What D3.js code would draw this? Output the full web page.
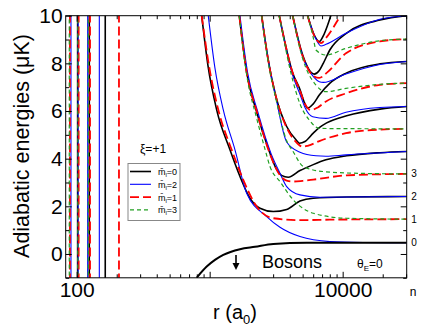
<!DOCTYPE html>
<html>
<head>
<meta charset="utf-8">
<script src="https://cdn.jsdelivr.net/npm/d3@7"></script>
<style>
  body { margin: 0; background: #fff; }
  text { font-family: "Liberation Sans", Arial, sans-serif; }
</style>
</head>
<body>
<script>
// curves as [r (a0), energy (uK)]
// black: m=0, red: m=1, blue: m=2, green: m=3 ; F1..F6 = families from left to right
var bosons = [[798,-1],[950,-0.53],[1096,-0.25],[1266,-0.04],[1690,0.2],[2191,0.3],[3008,0.42],[5357,0.47],[30300,0.47]];

var m0F1 = [[871,10],[971,7.9],[1129,6.05],[1421,4.37],[1690,3.25],[2009,2.34],[2389,1.92],[3008,1.78],[3793,1.87],[4775,2.22],[6011,2.34],[10718,2.39],[30300,2.41]];
var m0F2 = [[1670,10],[1900,7.6],[2230,6.05],[2841,4.23],[3151,3.6],[3470,3.3],[3899,3.22],[4775,3.5],[6011,3.75],[7489,3.95],[10718,4.12],[19074,4.25],[30300,4.3]];
var m0F3 = [[2460,10],[2744,8.2],[3151,6.6],[3793,5.35],[4456,4.79],[4719,4.65],[5206,4.72],[6011,5.07],[6671,5.3],[7578,5.5],[10718,5.8],[19074,6.08],[30300,6.19]];
var m0F4 = [[3337,10],[4209,7.6],[4775,6.9],[5117,6.4],[5455,6.12],[6011,6.3],[6671,6.67],[8025,7.17],[10718,7.6],[19074,7.98],[30300,8.08]];
var m0F5 = [[4209,10],[5003,8.35],[6115,7.55],[6671,7.7],[7145,8.0],[8025,8.57],[10718,9.27],[19074,9.82],[30300,10]];
var m0F6 = [[5455,10],[6100,9.2],[6671,8.91],[7145,9.15],[7700,9.6],[8200,10.05]];

var m1F1 = [[871,10],[988,7.9],[1161,6.05],[1464,4.37],[1789,3.11],[2256,1.99],[3008,1.5],[4775,1.42],[8025,1.44],[30300,1.46]];
var m1F2 = [[1670,10],[1900,7.6],[2256,6.0],[2841,4.2],[3337,3.35],[3793,3.08],[4238,3.04],[5003,3.07],[6011,3.12],[10718,3.3],[30300,3.36]];
var m1F3 = [[2460,10],[2744,8.2],[3151,6.6],[3793,5.3],[4456,4.7],[5003,4.5],[5513,4.55],[6748,4.75],[10587,5.07],[19074,5.22],[30300,5.25]];
var m1F4 = [[3337,10],[4209,7.6],[4775,6.85],[5206,6.3],[5777,6.04],[6500,6.15],[7489,6.4],[10587,6.74],[19074,7.1],[30300,7.17]];
var m1F5 = [[4209,10],[5003,8.3],[6115,7.45],[6671,7.39],[7578,7.6],[10587,8.42],[19074,8.92],[30300,9.02]];
var m1F6 = [[5455,10],[6115,9.15],[6869,8.85],[7578,9.1],[8500,9.5],[9500,9.95],[9900,10.1]];

var m2F1 = [[976,10],[1096,7.8],[1266,6.05],[1550,4.37],[1898,2.55],[2683,1.57],[3378,1.12],[4775,0.73],[8025,0.52],[14287,0.48],[30300,0.47]];
var m2F2 = [[1690,10],[1930,7.6],[2290,6.0],[2900,4.2],[3378,3.39],[3793,2.83],[4775,2.48],[6748,2.38],[30300,2.41]];
var m2F3 = [[2460,10],[2744,8.2],[3151,6.55],[3793,4.7],[4775,4.27],[6300,4.12],[7489,4.1],[10587,4.16],[30300,4.3]];
var m2F4 = [[3337,10],[4209,7.5],[4775,6.7],[5206,6.15],[5950,5.76],[7489,5.69],[10587,5.95],[19074,6.15],[30300,6.19]];
var m2F5 = [[4209,10],[5003,8.3],[6115,7.4],[6671,7.23],[7145,7.2],[10587,7.55],[19074,7.95],[30300,8.08]];
var m2F6 = [[5455,10],[6200,9.1],[6869,8.73],[7500,8.8],[10587,9.26],[19074,9.85],[30300,10]];

var m3F2 = [[1670,10],[1900,7.5],[2256,5.7],[2605,4.4],[2841,3.67],[3378,3.04],[4253,2.27],[6011,1.71],[10718,1.5],[30300,1.46]];
var m3F3 = [[2460,10],[2744,8.1],[3151,6.5],[3793,4.75],[4238,4.3],[5055,3.67],[7145,3.46],[14287,3.38],[30300,3.36]];
var m3F4 = [[3337,10],[4209,7.3],[4775,6.3],[5609,5.62],[6671,5.27],[10587,5.26],[30300,5.25]];
var m3F5 = [[4209,10],[5003,8.2],[6300,7.09],[7489,6.81],[10587,6.95],[19074,7.12],[30300,7.17]];
var m3F6 = [[5455,10],[6000,9.1],[6300,8.56],[7489,8.35],[10587,8.63],[19074,8.95],[30300,9.02]];

// the near vertical walls at short range, r (a0)
var wallM0 = [101.7, 124.4, 164];
var wallM1 = [89, 103.5, 126, 208];
var wallM2 = [90.6, 102.5, 121, 148];
var wallM3 = [88, 102, 122.2];

// axes
var xMajor = [100, 1000, 10000];
var xLabeled = [100, 10000];
var xMinor = [200,300,400,500,600,700,800,900,2000,3000,4000,5000,6000,7000,8000,9000,20000,30000];
var yMajor = [0, 2, 4, 6, 8, 10];
var yMinor = [-1, 1, 3, 5, 7, 9];

// n labels on the right
var nLabels = ['0', '1', '2', '3'];
var nLevels = [0.47, 1.46, 2.41, 3.36];

var legendKeys = ['0', '2', '1', '3'];

var width = 423;
var height = 327;

var svg = d3.select('body')
  .append('svg')
  .attr('width', width)
  .attr('height', height);

var x = d3.scaleLog().domain([82.7, 30300]).range([65.7, 406.7]);
var y = d3.scaleLinear().domain([-1, 10]).range([277.8, 15.7]);

svg.append('clipPath').attr('id', 'plot')
  .append('rect')
  .attr('x', 65.7).attr('y', 15.7)
  .attr('width', 341).attr('height', 262.1);

var line = d3.line()
  .x(d => x(d[0]))
  .y(d => y(d[1]))
  .curve(d3.curveMonotoneX);

var straight = d3.line()
  .x(d => x(d[0]))
  .y(d => y(d[1]));

var styles = {
  m0: { color: '#000', width: 1.6, dash: null },
  m2: { color: '#0000ff', width: 1.1, dash: null },
  m1: { color: '#ff0000', width: 1.8, dash: '9,4' },
  m3: { color: '#22a022', width: 1.2, dash: '4,3' }
};

var groups = [
  { key: 'm0', curves: [m0F1, m0F2, m0F3, m0F4, m0F5, m0F6], walls: wallM0 },
  { key: 'm2', curves: [m2F1, m2F2, m2F3, m2F4, m2F5, m2F6], walls: wallM2 },
  { key: 'm1', curves: [m1F1, m1F2, m1F3, m1F4, m1F5, m1F6], walls: wallM1 },
  { key: 'm3', curves: [m3F2, m3F3, m3F4, m3F5, m3F6], walls: wallM3 }
];

var plot = svg.append('g').attr('clip-path', 'url(#plot)');

groups.forEach(function(g) {
  var s = styles[g.key];
  var gg = plot.append('g')
    .attr('fill', 'none')
    .attr('stroke', s.color)
    .attr('stroke-width', s.width)
    .attr('stroke-dasharray', s.dash);
  gg.selectAll('path.wall')
    .data(g.walls)
    .enter()
    .append('path')
    .attr('class', 'wall')
    .attr('d', r => straight([[r, -1.2], [r, 10.2]]));
  gg.selectAll('path.curve')
    .data(g.curves)
    .enter()
    .append('path')
    .attr('class', 'curve')
    .attr('d', line);
});

plot.append('path')
  .attr('fill', 'none')
  .attr('stroke', '#000')
  .attr('stroke-width', 2)
  .attr('d', line(bosons));

// axes, ticks pointing inward on all four sides
function clean(g) { g.select('.domain').remove(); }

var fontAxis = '"Liberation Sans", Arial, sans-serif';

svg.append('g')
  .attr('transform', 'translate(0,277.8)')
  .call(d3.axisBottom(x).tickValues(xMajor).tickSize(-6).tickPadding(4)
    .tickFormat(d => xLabeled.indexOf(d) >= 0 ? d : ''))
  .call(clean)
  .attr('font-size', 21).attr('font-family', fontAxis);
svg.append('g')
  .attr('transform', 'translate(0,277.8)')
  .call(d3.axisBottom(x).tickValues(xMinor).tickSize(-3.5).tickFormat(''))
  .call(clean);
svg.append('g')
  .attr('transform', 'translate(0,15.7)')
  .call(d3.axisTop(x).tickValues(xMajor).tickSize(-6).tickFormat(''))
  .call(clean);
svg.append('g')
  .attr('transform', 'translate(0,15.7)')
  .call(d3.axisTop(x).tickValues(xMinor).tickSize(-3.5).tickFormat(''))
  .call(clean);

svg.append('g')
  .attr('transform', 'translate(65.7,0)')
  .call(d3.axisLeft(y).tickValues(yMajor).tickSize(-6).tickPadding(3))
  .call(clean)
  .attr('font-size', 21).attr('font-family', fontAxis);
svg.append('g')
  .attr('transform', 'translate(65.7,0)')
  .call(d3.axisLeft(y).tickValues(yMinor).tickSize(-3.5).tickFormat(''))
  .call(clean);
svg.append('g')
  .attr('transform', 'translate(406.7,0)')
  .call(d3.axisRight(y).tickValues(yMajor).tickSize(-6).tickFormat(''))
  .call(clean);
svg.append('g')
  .attr('transform', 'translate(406.7,0)')
  .call(d3.axisRight(y).tickValues(yMinor).tickSize(-3.5).tickFormat(''))
  .call(clean);

svg.append('rect')
  .attr('x', 65.7).attr('y', 15.7)
  .attr('width', 341).attr('height', 262.1)
  .attr('fill', 'none')
  .attr('stroke', '#000')
  .attr('stroke-width', 1);

// axis titles
svg.append('text')
  .attr('transform', 'translate(29,146) rotate(-90)')
  .attr('text-anchor', 'middle')
  .attr('font-size', 21.5)
  .text('Adiabatic energies (\u03bcK)');

var xt = svg.append('text')
  .attr('x', 213).attr('y', 319)
  .attr('font-size', 20);
xt.append('tspan').text('r (a');
xt.append('tspan').attr('font-size', 13).attr('dy', 5).text('0');
xt.append('tspan').attr('dy', -5).text(')');

// n labels at the right edge
svg.selectAll('text.n')
  .data(nLabels)
  .enter()
  .append('text')
  .attr('class', 'n')
  .attr('x', 414)
  .attr('y', (d, i) => y(nLevels[i]))
  .attr('dy', '0.35em')
  .attr('text-anchor', 'middle')
  .attr('font-size', 10)
  .text(d => d);

svg.append('text')
  .attr('x', 413).attr('y', 296)
  .attr('text-anchor', 'middle')
  .attr('font-size', 12)
  .text('n');

// annotations
svg.append('text')
  .attr('x', 262).attr('y', 268)
  .attr('font-size', 18)
  .text('Bosons');

svg.append('line')
  .attr('x1', 236).attr('x2', 236)
  .attr('y1', 255).attr('y2', 264)
  .attr('stroke', '#000').attr('stroke-width', 1.6);
svg.append('path')
  .attr('d', 'M232.5,263 L239.5,263 L236,270 Z')
  .attr('fill', '#000');

var th = svg.append('text')
  .attr('x', 357).attr('y', 268)
  .attr('font-size', 12);
th.append('tspan').text('\u03b8');
th.append('tspan').attr('font-size', 8).attr('dy', 3).text('E');
th.append('tspan').attr('dy', -3).text('=0');

// legend
svg.append('text')
  .attr('x', 140).attr('y', 153)
  .attr('font-size', 12)
  .text('\u03be=+1');

svg.append('rect')
  .attr('x', 128).attr('y', 163.5)
  .attr('width', 52).attr('height', 57)
  .attr('fill', '#fff')
  .attr('stroke', '#888')
  .attr('stroke-width', 1);

var legendStyles = ['m0', 'm2', 'm1', 'm3'];

var leg = svg.selectAll('g.leg')
  .data(legendKeys)
  .enter()
  .append('g')
  .attr('class', 'leg')
  .attr('transform', (d, i) => 'translate(0,' + (171.5 + i * 12.8) + ')');

leg.append('line')
  .attr('x1', 130).attr('x2', 151)
  .attr('stroke', (d, i) => styles[legendStyles[i]].color)
  .attr('stroke-width', (d, i) => styles[legendStyles[i]].width)
  .attr('stroke-dasharray', (d, i) => styles[legendStyles[i]].dash);

var lt = leg.append('text')
  .attr('x', 158).attr('y', 3.5)
  .attr('font-size', 9);
lt.append('tspan').text('m\u0304');
lt.append('tspan').attr('font-size', 6).attr('dy', 2).text('l');
lt.append('tspan').attr('dy', -2).text(d => '=' + d);
</script>
</body>
</html>
